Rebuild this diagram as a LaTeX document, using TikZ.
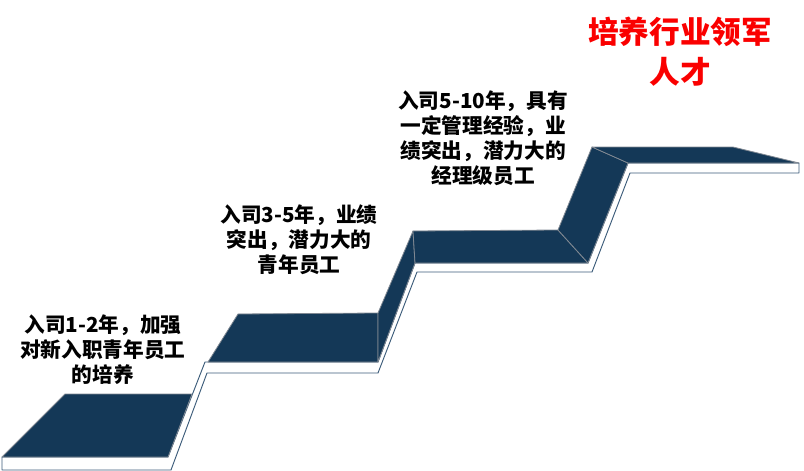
\documentclass[tikz,border=0pt]{standalone}
\usepackage{xcolor}
\usepackage{fontspec}
\usepackage{tikz}
\usetikzlibrary{positioning}

\newfontfamily\cjk{Noto Sans CJK SC}
\definecolor{stairblue}{RGB}{20,56,87}
\definecolor{foldgray}{RGB}{128,136,146}
\definecolor{rimblue}{RGB}{60,92,122}
\definecolor{goalred}{RGB}{250,0,0}

\begin{document}
\begin{tikzpicture}[x=0.75pt, y=-0.75pt,
			tread/.style={fill=stairblue, draw=foldgray, line width=0.6pt, line join=round},
			rim/.style={fill=white, draw=rimblue, line width=0.7pt, line join=round},
			note/.style={font=\cjk\bfseries\fontsize{15.5}{18.75}\selectfont, align=center, text=black, inner sep=0pt},
			goal/.style={font=\cjk\bfseries\fontsize{23}{30}\selectfont, align=center, text=goalred, inner sep=0pt}]
			
			\useasboundingbox (0,0) rectangle (804,471);
			
			% front edge of the stairs
			\draw[rim] (2,457) -- (168,457) -- (205,362) -- (378,362) -- (415,263) -- (588,263) -- (628,163) -- (799,163)
				-- (799,173) -- (630,173) -- (592,272) -- (417,272) -- (378,373) -- (207,373) -- (171,470) -- (2,470) -- cycle;
			
			% treads and risers
			\draw[tread] (2,457) -- (65,394) -- (192,394) -- (168,457) -- cycle;
			\draw[tread] (208,362) -- (238,314) -- (378,313) -- (378,362) -- cycle;
			\draw[tread] (378,313) -- (413,231) -- (415,263) -- (378,362) -- cycle;
			\draw[tread] (415,263) -- (413,231) -- (558,230) -- (588,263) -- cycle;
			\draw[tread] (558,230) -- (592,147) -- (628,163) -- (588,263) -- cycle;
			\draw[tread] (592,147) -- (733,147) -- (799,163) -- (628,163) -- cycle;
			
			\node[note] (junior) at (103,350) {入司1-2年，加强\\对新入职青年员工\\的培养};
			\node[note] (senior) at (299,240) {入司3-5年，业绩\\突出，潜力大的\\青年员工};
			\node[note] (manager) at (483,138) {入司5-10年，具有\\一定管理经验，业\\绩突出，潜力大的\\经理级员工};
			\node[goal] (lead) at (680,52) {培养行业领军\\人才};
			
		\end{tikzpicture}
\end{document}
